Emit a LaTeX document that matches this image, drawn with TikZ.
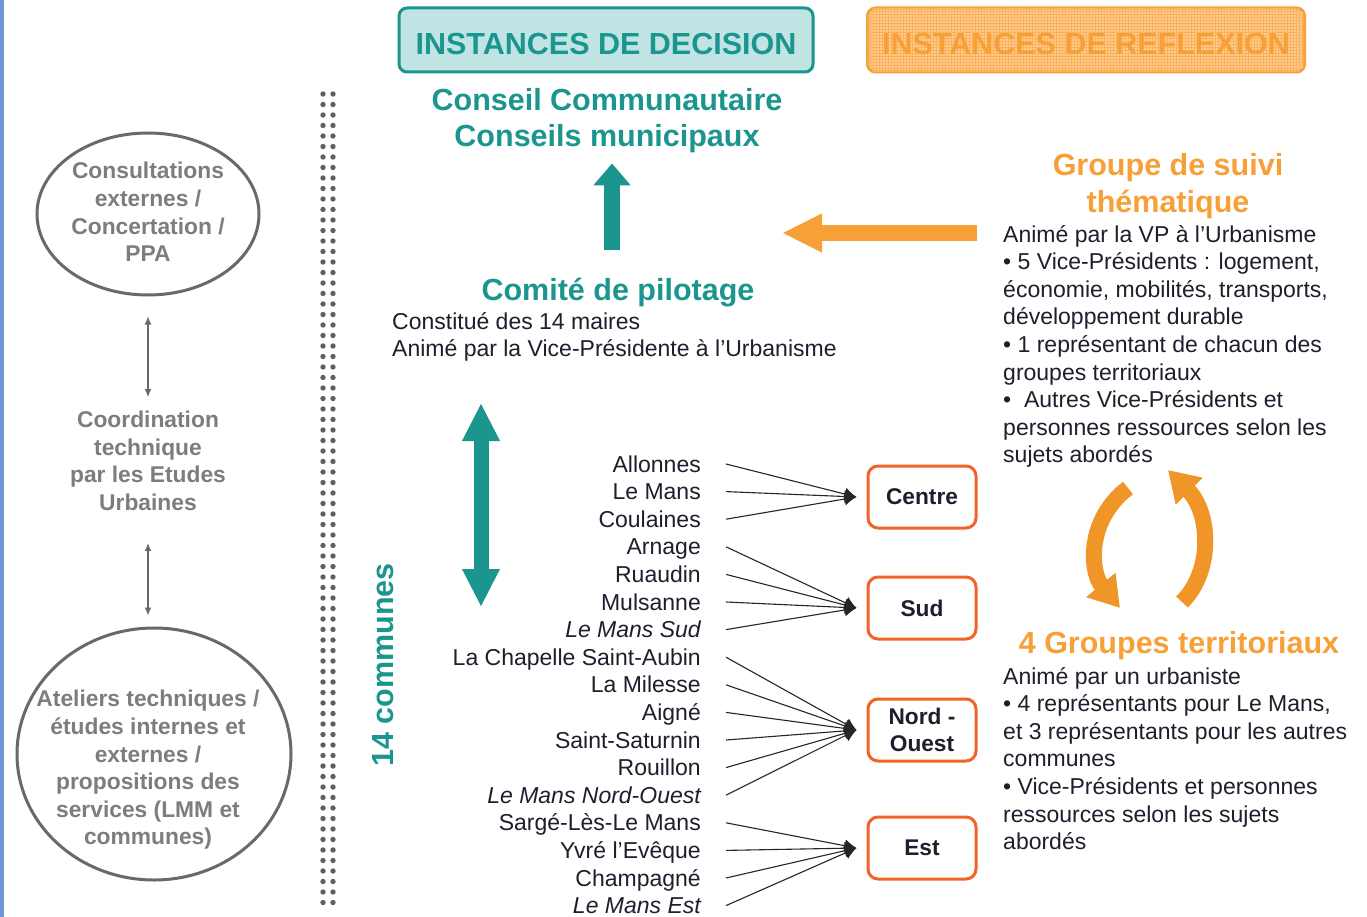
\documentclass[tikz,border=0pt]{standalone}
\usepackage{fontspec}
\setmainfont{Liberation Sans}
\usetikzlibrary{arrows.meta,shapes.geometric,patterns}

\definecolor{tealdec}{RGB}{26,150,142}
\definecolor{tealpale}{RGB}{192,228,228}
\definecolor{orref}{RGB}{247,160,56}
\definecolor{orcyc}{RGB}{240,150,40}
\definecolor{orpale}{RGB}{255,204,140}
\definecolor{orbox}{RGB}{240,100,40}
\definecolor{ink}{RGB}{30,30,45}
\definecolor{greytxt}{RGB}{125,125,125}
\definecolor{ringc}{RGB}{105,105,105}
\definecolor{dotc}{RGB}{95,95,95}
\definecolor{bluebar}{RGB}{112,152,216}

\begin{document}
\begin{tikzpicture}[x=1pt, y=-1pt,
  >={Latex[length=8pt,width=7pt]},
  bigtxt/.style={font=\fontsize{30.5}{36}\selectfont\bfseries, inner sep=0pt},
  txt/.style={font=\fontsize{23}{27.6}\selectfont, text=ink, inner sep=0pt},
  gtxt/.style={font=\fontsize{22.8}{27.6}\selectfont\bfseries, text=greytxt, align=center, inner sep=0pt},
  ring/.style={draw=ringc, line width=3pt, ellipse},
  commune/.style={txt, anchor=east, text height=17pt, text depth=1pt},
  grp/.style={draw=orbox, line width=3pt, rounded corners=10pt, minimum width=108pt, minimum height=62pt,
    font=\fontsize{22.7}{27.6}\selectfont\bfseries, text=ink, align=center, inner sep=0pt},
  headbox/.style={line width=3pt, rounded corners=8pt, minimum height=64pt, bigtxt, text height=30pt, text depth=0pt},
  feed/.style={draw=black!85, line width=1.1pt, -{Latex[length=12pt,width=13pt]}},
  cyc/.style={draw=orcyc, line width=16pt, -{Triangle[length=30pt,width=36pt]}},
  greyarrow/.style={<->, draw=ringc, line width=1.3pt}
]
\useasboundingbox (0,0) rectangle (1367,917);
\fill[white] (0,0) rectangle (1367,917);
\draw[bluebar, line width=4pt] (2,0) -- (2,917);

% instances
\node[headbox, draw=tealdec, fill=tealpale, minimum width=414pt, text=tealdec] (decision) at (606,40) {INSTANCES DE DECISION};
\node[headbox, draw=orref, fill=orpale, minimum width=437pt, text=orref,
  postaction={pattern=grid, pattern color=orref!80}] (reflexion) at (1086,40) {INSTANCES DE REFLEXION};

\node[bigtxt, text=tealdec, align=center] (conseil) at (607,121) {Conseil Communautaire\\Conseils municipaux};
\node[bigtxt, text=tealdec] (comite) at (618,293) {Comité de pilotage};
\node[txt, align=left, anchor=north west] (comitetxt) at (392,312) {Constitué des 14 maires\\Animé par la Vice-Présidente à l’Urbanisme};

\path (comite.north) ++(-6,-28) coordinate (upfoot);
\draw[tealdec, line width=16pt, -{Triangle[length=22pt,width=36pt]}, shorten >=10pt] (upfoot) -- (upfoot |- conseil.south);

\coordinate (dtop) at (481,403);
\coordinate (dbot) at (481,607);
\draw[tealdec, line width=15pt, {Triangle[length=38pt,width=35pt]}-{Triangle[length=38pt,width=35pt]}] (dtop) -- (dbot);

\coordinate (otail) at (977,233);
\coordinate (otip) at (782,233);
\draw[orref, line width=16pt, -{Triangle[length=40pt,width=36pt]}] (otail) -- (otip);

% dotted separator
\foreach \k in {0,...,77} {
  \fill[dotc] (323,{94+10.5*\k}) circle (2.7pt);
  \fill[dotc] (333,{94+10.5*\k}) circle (2.7pt);
}
\node[bigtxt, text=tealdec, rotate=90] (quatorze) at (383,665) {14 communes};

% left column
\node[ring, minimum width=222pt, minimum height=162pt] (consult) at (148,214) {};
\node[gtxt] (consulttxt) at (148,212) {Consultations\\externes /\\Concertation /\\PPA};
\node[gtxt] (coord) at (148,461) {Coordination\\technique\\par les Etudes\\Urbaines};
\node[ring, minimum width=274pt, minimum height=252pt] (ateliers) at (154,754) {};
\node[gtxt] (ateltxt) at (148,770) {Ateliers techniques /\\études internes et\\externes /\\propositions des\\services (LMM et\\communes)};
\draw[greyarrow, shorten <=20pt, shorten >=14pt] (consult.south) -- (coord.north);
\draw[greyarrow, shorten <=32pt, shorten >=11pt] (coord.south) -- (coord.south |- ateliers.north);

% communes
\foreach \cname [count=\i] in {Allonnes, Le Mans, Coulaines, Arnage, Ruaudin, Mulsanne, {\itshape Le Mans Sud},
  La Chapelle Saint-Aubin, La Milesse, Aigné, Saint-Saturnin, Rouillon, {\itshape Le Mans Nord-Ouest},
  Sargé-Lès-Le Mans, Yvré l’Evêque, Champagné, {\itshape Le Mans Est}}
  \node[commune] (c\i) at (701,{464+27.6*(\i-1)}) {\cname};

\node[grp] (centre) at (922,497) {Centre};
\node[grp] (sud) at (922,608) {Sud};
\node[grp] (nordouest) at (922,730) {Nord -\\Ouest};
\node[grp] (est) at (922,848) {Est};

\foreach \i in {1,2,3} \draw[feed] ([xshift=25pt]c\i.east) -- ([xshift=-10pt]centre.west);
\foreach \i in {4,...,7} \draw[feed] ([xshift=25pt]c\i.east) -- ([xshift=-10pt]sud.west);
\foreach \i in {8,...,13} \draw[feed] ([xshift=25pt]c\i.east) -- ([xshift=-10pt]nordouest.west);
\foreach \i in {14,...,17} \draw[feed] ([xshift=25pt]c\i.east) -- ([xshift=-10pt]est.west);

% right column
\node[bigtxt, text=orref, align=center, font=\fontsize{30.5}{37}\selectfont\bfseries] (suivi) at (1168,186.5) {Groupe de suivi\\thématique};
\node[txt, align=left, anchor=north west] (suivitxt) at (1003,225) {Animé par la VP à l’Urbanisme\\• 5 Vice-Présidents : logement,\\économie, mobilités, transports,\\développement durable\\• 1 représentant de chacun des\\groupes territoriaux\\•~ Autres Vice-Présidents et\\personnes ressources selon les\\sujets abordés};

\draw[cyc] (1128,488) .. controls (1086,520) and (1090,572) .. (1120,608);
\draw[cyc] (1182,602) .. controls (1214,570) and (1210,512) .. (1168,470);

\node[bigtxt, text=orref] (territ) at (1179,646) {4 Groupes territoriaux};
\node[txt, align=left, anchor=north west] (territtxt) at (1003,667) {Animé par un urbaniste\\• 4 représentants pour Le Mans,\\et 3 représentants pour les autres\\communes\\• Vice-Présidents et personnes\\ressources selon les sujets\\abordés};
\end{tikzpicture}
\end{document}
